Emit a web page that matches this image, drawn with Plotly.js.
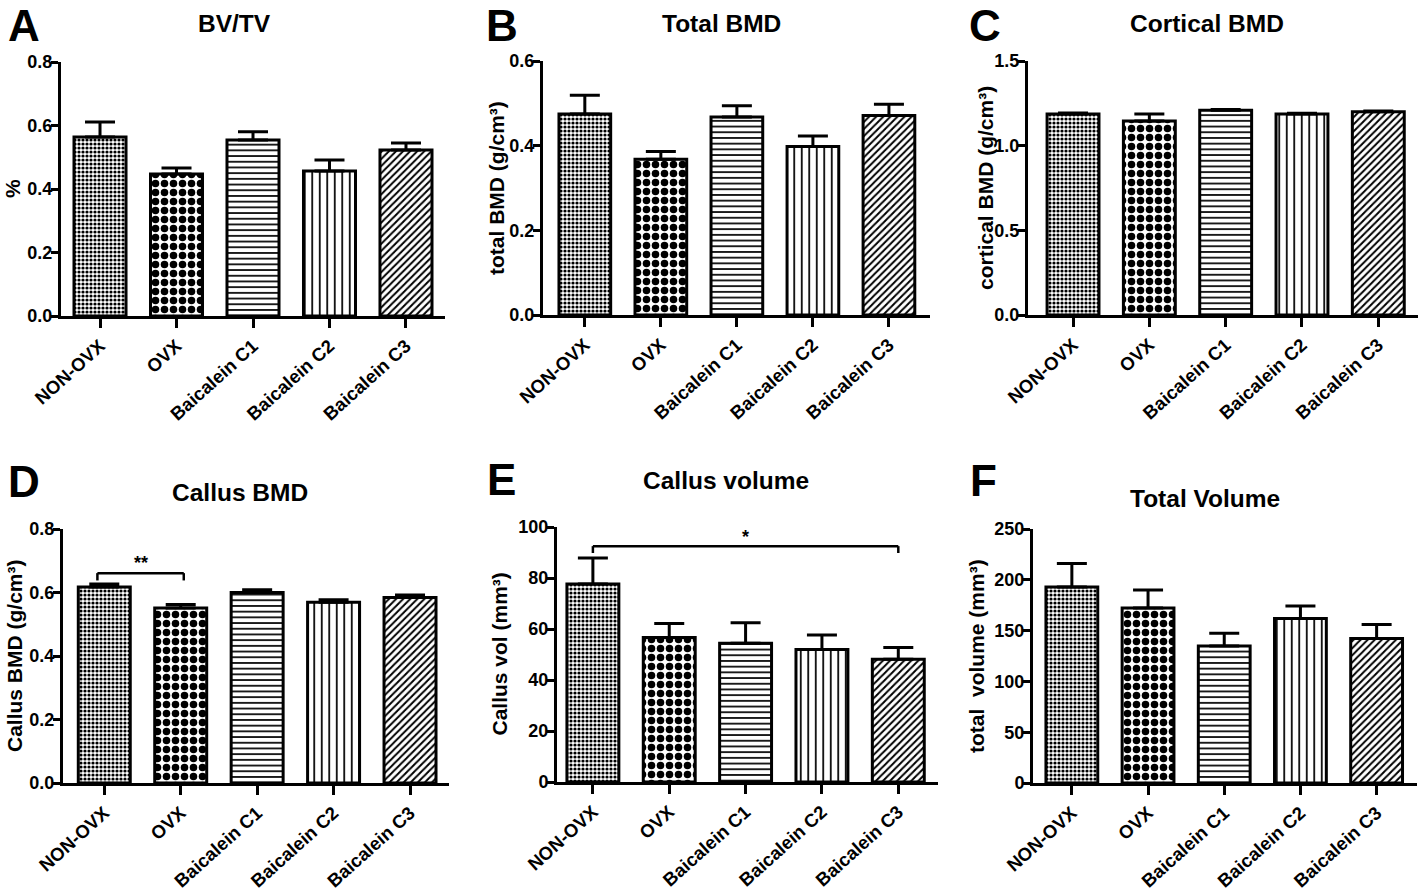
<!DOCTYPE html>
<html>
<head>
<meta charset="utf-8">
<script src="https://cdn.plot.ly/plotly-3.0.1.min.js"></script>
<style>html,body{margin:0;padding:0;background:#fff;}#chart{width:1419px;height:891px;}</style>
</head>
<body>
<div id="chart"></div>
<script>
// ---------- data ----------
const categories = ['NON-OVX', 'OVX', 'Baicalein C1', 'Baicalein C2', 'Baicalein C3'];

const bvtv        = [0.564, 0.447, 0.554, 0.457, 0.523];
const bvtvErr     = [0.047, 0.019, 0.026, 0.034, 0.022];

const totalBMD    = [0.475, 0.368, 0.468, 0.398, 0.471];
const totalBMDErr = [0.044, 0.018, 0.026, 0.025, 0.027];

const corticalBMD    = [1.187, 1.146, 1.209, 1.187, 1.200];
const corticalBMDErr = [0.006, 0.041, 0.005, 0.004, 0.005];

const callusBMD    = [0.617, 0.551, 0.600, 0.569, 0.584];
const callusBMDErr = [0.010, 0.011, 0.009, 0.008, 0.008];

const callusVol    = [77.6, 56.7, 54.4, 52.0, 48.1];
const callusVolErr = [10.2, 5.5, 8.1, 5.6, 4.6];

const totalVol    = [192.9, 172.3, 134.8, 161.9, 142.2];
const totalVolErr = [23.1, 17.7, 12.5, 12.4, 13.8];

const panelTitles  = ['BV/TV', 'Total BMD', 'Cortical BMD', 'Callus BMD', 'Callus volume', 'Total Volume'];
const panelLetters = ['A', 'B', 'C', 'D', 'E', 'F'];
const yTitles = ['%', 'total BMD (g/cm³)', 'cortical BMD (g/cm³)', 'Callus BMD (g/cm³)', 'Callus vol (mm³)', 'total  volume (mm³)'];

// ---------- styles ----------
const patShapes   = ['.', '.', '-', '|', '/'];
const patSizes    = [4, 9, 5.7, 7.5, 5];
const patSolidity = [0.5, 0.55, 0.3, 0.23, 0.4];

const W = 1419, H = 891;
const FONT = 'Liberation Sans, Arial, Helvetica, sans-serif';

// pixel geometry of each panel: [xLeft, xRight, yTop, yBottom]
const geo = [
  {px: [61, 445, 62, 316],    xr: [-0.51, 4.51], ymax: 0.8, dtick: 0.2, fmt: '.1f', title: [234, 24], letter: [24, 25.5], ytx: 12},
  {px: [543, 930, 61, 315],   xr: [-0.55, 4.54], ymax: 0.6, dtick: 0.2, fmt: '.1f', title: [721, 24], letter: [502, 25.5], ytx: 496},
  {px: [1028, 1418, 61, 315], xr: [-0.59, 4.52], ymax: 1.5, dtick: 0.5, fmt: '.1f', title: [1207, 24], letter: [985, 25.5], ytx: 985},
  {px: [63, 449, 529, 783],   xr: [-0.54, 4.51], ymax: 0.8, dtick: 0.2, fmt: '.1f', title: [240, 492], letter: [24, 481], ytx: 14},
  {px: [557, 938, 527, 782],  xr: [-0.47, 4.52], ymax: 100, dtick: 20, fmt: 'd', title: [726, 480], letter: [501, 479], ytx: 499},
  {px: [1033, 1417, 529, 783],xr: [-0.51, 4.53], ymax: 250, dtick: 50, fmt: 'd', title: [1205, 498], letter: [983, 480], ytx: 976}
];

const values = [bvtv, totalBMD, corticalBMD, callusBMD, callusVol, totalVol];
const errors = [bvtvErr, totalBMDErr, corticalBMDErr, callusBMDErr, callusVolErr, totalVolErr];

const data = [];
const layout = {
  width: W, height: H,
  margin: {l: 0, r: 0, t: 0, b: 0},
  paper_bgcolor: 'white', plot_bgcolor: 'white',
  showlegend: false,
  font: {family: FONT, color: 'black', weight: 700},
  annotations: [],
  shapes: []
};

geo.forEach((g, i) => {
  const s = i === 0 ? '' : String(i + 1);
  data.push({
    type: 'bar',
    x: categories,
    y: values[i],
    xaxis: 'x' + s,
    yaxis: 'y' + s,
    width: 0.68,
    marker: {
      color: 'white',
      line: {color: 'black', width: 3},
      pattern: {shape: patShapes, size: patSizes, solidity: patSolidity, fgcolor: 'black', bgcolor: 'white', fillmode: 'replace'}
    },
    error_y: {type: 'data', array: errors[i], arrayminus: errors[i].map(() => 0), symmetric: false,
              visible: true, color: 'black', thickness: 3, width: 15},
    hoverinfo: 'x+y'
  });
  const [x0, x1, yT, yB] = g.px;
  layout['xaxis' + s] = {
    domain: [x0 / W, x1 / W], range: g.xr, anchor: 'y' + s, type: 'category',
    tickmode: 'array', tickvals: categories, ticktext: categories.map(c => '<b>' + c + '</b>'),
    showline: true, linewidth: 3, linecolor: 'black',
    ticks: 'outside', ticklen: 9, tickwidth: 3, tickcolor: 'black',
    tickangle: -42, tickfont: {family: FONT, size: 18.5, color: 'black', weight: 700},
    showgrid: false, zeroline: false, fixedrange: true
  };
  layout['yaxis' + s] = {
    domain: [1 - yB / H, 1 - yT / H], range: [0, g.ymax], anchor: 'x' + s,
    dtick: g.dtick, tick0: 0, tickformat: g.fmt,
    tickprefix: '<b>', ticksuffix: '</b>',
    showline: true, linewidth: 3, linecolor: 'black',
    ticks: 'outside', ticklen: 7, tickwidth: 3, tickcolor: 'black',
    ticklabelstandoff: -5,
    tickfont: {family: FONT, size: 18, color: 'black', weight: 700},
    showgrid: false, zeroline: false, fixedrange: true
  };
  layout.annotations.push({
    xref: 'paper', yref: 'paper', x: g.title[0] / W, y: 1 - g.title[1] / H,
    xanchor: 'center', yanchor: 'middle', showarrow: false,
    text: '<b>' + panelTitles[i] + '</b>', font: {family: FONT, size: 24.5, color: 'black'}
  });
  layout.annotations.push({
    xref: 'paper', yref: 'paper', x: g.letter[0] / W, y: 1 - g.letter[1] / H,
    xanchor: 'center', yanchor: 'middle', showarrow: false,
    text: '<b>' + panelLetters[i] + '</b>', font: {family: FONT, size: 44, color: 'black'}
  });
  layout.annotations.push({
    xref: 'paper', yref: 'paper', x: g.ytx / W, y: 1 - ((yT + yB) / 2) / H,
    xanchor: 'center', yanchor: 'middle', showarrow: false, textangle: -90,
    text: '<b>' + yTitles[i] + '</b>', font: {family: FONT, size: 21, color: 'black'}
  });
});

function bracket(s, xa, xb, yLine, yEnd, label, labelY) {
  const ln = {color: 'black', width: 2.5};
  layout.shapes.push({type: 'line', xref: 'x' + s, yref: 'y' + s, x0: xa, x1: xb, y0: yLine, y1: yLine, line: ln});
  layout.shapes.push({type: 'line', xref: 'x' + s, yref: 'y' + s, x0: xa, x1: xa, y0: yLine, y1: yEnd, line: ln});
  layout.shapes.push({type: 'line', xref: 'x' + s, yref: 'y' + s, x0: xb, x1: xb, y0: yLine, y1: yEnd, line: ln});
  layout.annotations.push({xref: 'x' + s, yref: 'y' + s, x: (xa + xb) / 2, y: labelY, yanchor: 'bottom',
    xanchor: 'center', showarrow: false, text: '<b>' + label + '</b>', font: {family: FONT, size: 18, color: 'black'}});
}
bracket('4', -0.09, 1.04, 0.661, 0.638, '**', 0.655);
bracket('5', 0, 4, 92.5, 89.8, '*', 91.5);

Plotly.newPlot('chart', data, layout, {staticPlot: true, displayModeBar: false});
</script>
</body>
</html>
